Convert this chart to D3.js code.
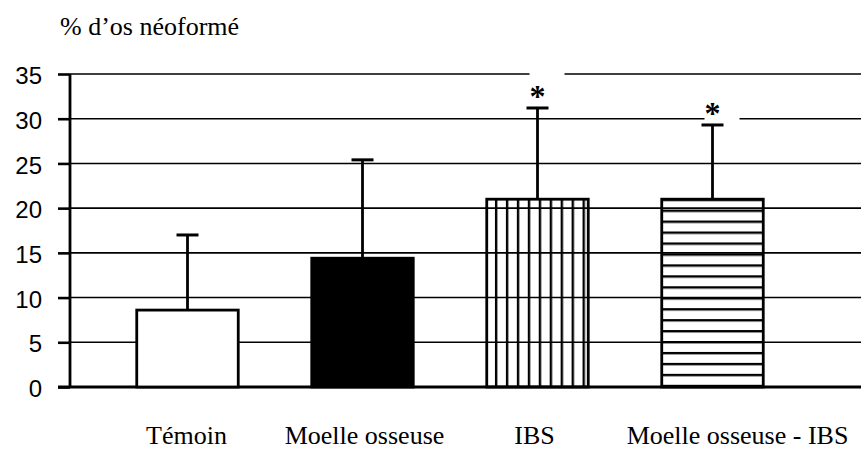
<!DOCTYPE html>
<html>
<head>
<meta charset="utf-8">
<script src="https://cdn.jsdelivr.net/npm/d3@7"></script>
<style>
    body { margin: 0; background: #fff; }
    .tick text { font-family: "Liberation Sans", Arial, sans-serif; font-size: 24px; }
    .catLabel { font-family: "Liberation Serif", "Times New Roman", serif; font-size: 26px; }
</style>
</head>
<body>
<svg id="chart" width="861" height="450"></svg>
<script>
var categories = ["Témoin", "Moelle osseuse", "IBS", "Moelle osseuse - IBS"];
var means = [8.6, 14.4, 21.0, 21.0];
var errors = [8.4, 11.0, 10.2, 8.3];
var significant = [false, false, true, true];
var fills = ["white", "black", "url(#vStripes)", "url(#hStripes)"];
var yTicks = [0, 5, 10, 15, 20, 25, 30, 35];

var svg = d3.select("#chart");

const AXIS_X = 70;
const RIGHT = 861;

var x = d3.scaleBand().domain(categories).range([100, 800]).paddingInner(0.42).paddingOuter(0.21);
var y = d3.scaleLinear().domain([0, 35]).range([387, 74]);

// Patterns for the hatched bars
var defs = svg.append("defs");
defs.append("pattern")
    .attr("id", "vStripes")
    .attr("patternUnits", "userSpaceOnUse")
    .attr("x", x(categories[2]) + 8.2)
    .attr("width", 10.95).attr("height", 20)
    .append("rect").attr("width", 2.4).attr("height", 20).attr("fill", "black");
defs.append("pattern")
    .attr("id", "hStripes")
    .attr("patternUnits", "userSpaceOnUse")
    .attr("y", y(21) + 10.4)
    .attr("width", 20).attr("height", 10.95)
    .append("rect").attr("width", 20).attr("height", 2.4).attr("fill", "black");

// Gridlines
svg.append("g")
    .selectAll("line")
    .data(yTicks.filter(function(d) { return d > 0; }))
    .enter().append("line")
        .attr("x1", AXIS_X).attr("x2", RIGHT)
        .attr("y1", function(d) { return y(d); })
        .attr("y2", function(d) { return y(d); })
        .attr("stroke", "black").attr("stroke-width", 1.6);

// Y axis
var yAxis = svg.append("g")
    .attr("transform", "translate(" + AXIS_X + ",0)")
    .call(d3.axisLeft(y).tickValues(yTicks).tickSize(12).tickPadding(16));
yAxis.select(".domain").attr("stroke-width", 2.8).attr("d", "M0," + y(35) + "V" + y(0));
yAxis.selectAll(".tick line").attr("stroke-width", 2.6);
yAxis.selectAll(".tick text").attr("fill", "black").attr("dy", "0.4em");

// Baseline
svg.append("line")
    .attr("x1", AXIS_X - 12).attr("x2", RIGHT)
    .attr("y1", y(0)).attr("y2", y(0))
    .attr("stroke", "black").attr("stroke-width", 2.8);

// Bars
var bars = svg.append("g").selectAll("g").data(categories).enter().append("g");

bars.append("rect")
    .attr("x", function(d) { return x(d); })
    .attr("y", function(d, i) { return y(means[i]); })
    .attr("width", x.bandwidth())
    .attr("height", function(d, i) { return y(0) - y(means[i]); })
    .attr("fill", function(d, i) { return fills[i]; })
    .attr("stroke", "black").attr("stroke-width", 2.8);

// Error bars
bars.append("line")
    .attr("x1", function(d) { return x(d) + x.bandwidth() / 2; })
    .attr("x2", function(d) { return x(d) + x.bandwidth() / 2; })
    .attr("y1", function(d, i) { return y(means[i]); })
    .attr("y2", function(d, i) { return y(means[i] + errors[i]); })
    .attr("stroke", "black").attr("stroke-width", 2.8);
bars.append("line")
    .attr("x1", function(d) { return x(d) + x.bandwidth() / 2 - 11; })
    .attr("x2", function(d) { return x(d) + x.bandwidth() / 2 + 11; })
    .attr("y1", function(d, i) { return y(means[i] + errors[i]); })
    .attr("y2", function(d, i) { return y(means[i] + errors[i]); })
    .attr("stroke", "black").attr("stroke-width", 3);

// Significance asterisks, each on a white patch that breaks the gridline
var stars = bars.filter(function(d, i) { return significant[i]; });
stars.append("rect")
    .attr("x", function(d) { return x(d) + x.bandwidth() / 2 - 8; })
    .attr("y", function(d) { var i = categories.indexOf(d); return y(means[i] + errors[i]) - 37; })
    .attr("width", 35).attr("height", 35)
    .attr("fill", "white");
stars.append("text")
    .attr("x", function(d) { return x(d) + x.bandwidth() / 2; })
    .attr("y", function(d) { var i = categories.indexOf(d); return y(means[i] + errors[i]) - 1; })
    .attr("text-anchor", "middle")
    .attr("font-family", "Liberation Serif, serif")
    .attr("font-weight", "bold")
    .attr("font-size", 32)
    .text("*");

// Category labels
svg.append("g").selectAll("text").data(categories).enter().append("text")
    .attr("class", "catLabel")
    .attr("x", function(d, i) { return x(d) + x.bandwidth() / 2 + [-1, 2, -3, 25][i]; })
    .attr("y", 444)
    .attr("text-anchor", "middle")
    .text(function(d) { return d; });

// Axis title
svg.append("text")
    .attr("x", 60).attr("y", 35)
    .attr("font-family", "Liberation Serif, serif")
    .attr("font-size", 26)
    .text("% d’os néoformé");
</script>
</body>
</html>
